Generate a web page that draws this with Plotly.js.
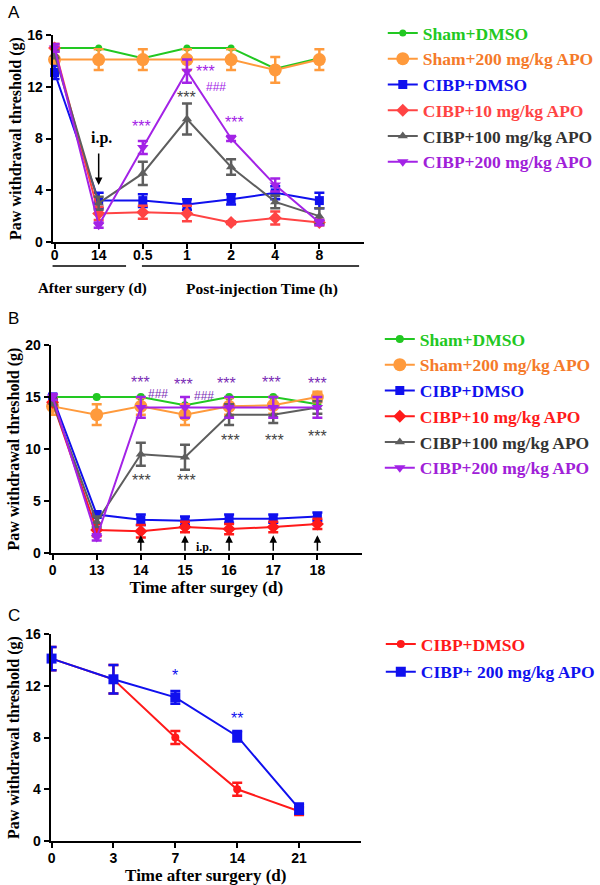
<!DOCTYPE html>
<html>
<head>
<meta charset="utf-8">
<script src="https://cdn.plot.ly/plotly-3.0.1.min.js"></script>
<style>html,body{margin:0;padding:0;background:#fff;}#chart{width:600px;height:885px;}</style>
</head>
<body>
<div id="chart"></div>
<script>
// ---------- Panel A ----------
var catsA = ['0', '14', '0.5', '1', '2', '4', '8'];
var shamDmsoA = [15, 15, 14.2, 15, 15, 13.4, 14.2];
var sham200A = [14.1, 14.1, 14.1, 14.1, 14.1, 13.3, 14.1];
var sham200A_err = [0.8, 0.8, 0.8, 0.8, 0.8, 1.0, 0.8];
var cibpDmsoA = [13.1, 3.2, 3.2, 2.9, 3.3, 3.8, 3.2];
var cibpDmsoA_err = [0.5, 0.6, 0.5, 0.4, 0.4, 0.5, 0.6];
var cibp10A = [15.0, 2.2, 2.3, 2.2, 1.5, 1.85, 1.5];
var cibp10A_err = [0.3, 0.5, 0.5, 0.6, 0.1, 0.5, 0.2];
var cibp100A = [14.5, 3.0, 5.3, 9.5, 5.8, 3.1, 2.0];
var cibp100A_err = [0.3, 0.5, 0.9, 1.2, 0.6, 0.5, 0.6];
var cibp200A = [15.0, 1.3, 7.3, 13.2, 8.0, 4.4, 1.5];
var cibp200A_err = [0.3, 0.2, 0.5, 0.9, 0.2, 0.5, 0.2];

// ---------- Panel B ----------
var catsB = ['0', '13', '14', '15', '16', '17', '18'];
var shamDmsoB = [15, 15, 15, 14.2, 15, 15, 14.3];
var sham200B = [14.1, 13.3, 14.1, 13.3, 14.1, 14.2, 15.0];
var sham200B_err = [0.8, 1.0, 0.8, 1.0, 0.8, 0.8, 0.5];
var cibpDmsoB = [15.0, 3.7, 3.2, 3.1, 3.3, 3.3, 3.5];
var cibpDmsoB_err = [0.3, 0.3, 0.5, 0.4, 0.4, 0.4, 0.4];
var cibp10B = [14.5, 2.2, 2.1, 2.5, 2.3, 2.5, 2.8];
var cibp10B_err = [0.3, 0.6, 0.6, 0.5, 0.5, 0.5, 0.5];
var cibp100B = [14.5, 3.0, 9.5, 9.2, 13.3, 13.3, 14.0];
var cibp100B_err = [0.3, 0.5, 1.1, 1.2, 1.0, 0.8, 0.6];
var cibp200B = [15.0, 1.5, 14.0, 14.0, 14.0, 14.0, 14.0];
var cibp200B_err = [0.3, 0.3, 1.0, 1.0, 1.0, 1.0, 1.0];

// ---------- Panel C ----------
var catsC = ['0', '3', '7', '14', '21'];
var cibpDmsoC = [14.1, 12.5, 8.0, 4.0, 2.3];
var cibpDmsoC_err = [0.9, 1.1, 0.5, 0.5, 0.3];
var cibp200C = [14.1, 12.5, 11.1, 8.1, 2.5];
var cibp200C_err = [0.9, 1.1, 0.5, 0.4, 0.4];

var namesA = ['Sham+DMSO', 'Sham+200 mg/kg APO', 'CIBP+DMSO', 'CIBP+10 mg/kg APO', 'CIBP+100 mg/kg APO', 'CIBP+200 mg/kg APO'];
var namesC = ['CIBP+DMSO', 'CIBP+ 200 mg/kg APO'];

var colGreen = '#22c822', colOrange = '#ff9a3c', colBlue = '#1010ee', colRedA = '#ff4444',
    colRedB = '#ff1a1a', colGray = '#5e5e5e', colPurple = '#a323e6';
var txtOrange = '#f57a2a', txtGray = '#333333', txtPurple = '#a020d8';

function idx(arr) { return arr.map(function (_, i) { return i; }); }

var SERIF = 'Liberation Serif, Times New Roman, serif';
var SANS = 'Liberation Sans, Arial, sans-serif';

function tr(xs, ys, err, name, color, txtColor, sym, size, xa, ya, leg, grp) {
  var t = {
    type: 'scatter', mode: 'lines+markers', x: idx(xs), y: ys,
    name: '<span style="color:' + txtColor + '"><b>' + name + '</b></span>',
    line: {color: color, width: 2},
    marker: {color: color, symbol: sym, size: size},
    cliponaxis: false,
    xaxis: xa, yaxis: ya, legend: leg, legendgroup: grp
  };
  if (err) t.error_y = {type: 'data', array: err, visible: true, color: color, thickness: 2.5, width: 5};
  return t;
}

var data = [
  tr(catsA, shamDmsoA, null, namesA[0], colGreen, colGreen, 'circle', 7, 'x', 'y', 'legend', 'a1'),
  tr(catsA, sham200A, sham200A_err, namesA[1], colOrange, txtOrange, 'circle', 13, 'x', 'y', 'legend', 'a2'),
  tr(catsA, cibpDmsoA, cibpDmsoA_err, namesA[2], colBlue, colBlue, 'square', 9, 'x', 'y', 'legend', 'a3'),
  tr(catsA, cibp10A, cibp10A_err, namesA[3], colRedA, colRedA, 'diamond', 10, 'x', 'y', 'legend', 'a4'),
  tr(catsA, cibp100A, cibp100A_err, namesA[4], colGray, txtGray, 'triangle-up', 9, 'x', 'y', 'legend', 'a5'),
  tr(catsA, cibp200A, cibp200A_err, namesA[5], colPurple, txtPurple, 'triangle-down', 10, 'x', 'y', 'legend', 'a6'),

  tr(catsB, shamDmsoB, null, namesA[0], colGreen, colGreen, 'circle', 8, 'x2', 'y2', 'legend2', 'b1'),
  tr(catsB, sham200B, sham200B_err, namesA[1], colOrange, txtOrange, 'circle', 13, 'x2', 'y2', 'legend2', 'b2'),
  tr(catsB, cibpDmsoB, cibpDmsoB_err, namesA[2], colBlue, colBlue, 'square', 9, 'x2', 'y2', 'legend2', 'b3'),
  tr(catsB, cibp10B, cibp10B_err, namesA[3], colRedB, colRedB, 'diamond', 10, 'x2', 'y2', 'legend2', 'b4'),
  tr(catsB, cibp100B, cibp100B_err, namesA[4], colGray, txtGray, 'triangle-up', 9, 'x2', 'y2', 'legend2', 'b5'),
  tr(catsB, cibp200B, cibp200B_err, namesA[5], colPurple, txtPurple, 'triangle-down', 10, 'x2', 'y2', 'legend2', 'b6'),

  tr(catsC, cibpDmsoC, cibpDmsoC_err, namesC[0], colRedB, colRedB, 'circle', 8, 'x3', 'y3', 'legend3', 'c1'),
  tr(catsC, cibp200C, cibp200C_err, namesC[1], colBlue, colBlue, 'square', 10, 'x3', 'y3', 'legend3', 'c2')
];

function px(x) { return x / 600; }
function py(y) { return 1 - y / 885; }

var tickFont = {family: SANS, size: 14, color: '#000', weight: 'bold'};
function xax(dom, cats, range, anchor, title, lblOff) {
  var a = {
    domain: dom, range: range, anchor: anchor, tickmode: 'array', tickvals: idx(cats), ticktext: cats,
    showline: true, linecolor: '#000', linewidth: 2, ticks: 'outside', ticklen: 5, tickwidth: 2, tickcolor: '#000',
    showgrid: false, zeroline: false, tickfont: tickFont, fixedrange: true, ticklabelstandoff: lblOff
  };
  if (title) a.title = {text: title, font: {family: SERIF, size: 17, color: '#000', weight: 'bold'}, standoff: 1};
  return a;
}
function yax(dom, range, dtick, anchor) {
  return {
    domain: dom, range: range, anchor: anchor, dtick: dtick, tick0: 0,
    showline: true, linecolor: '#000', linewidth: 2, ticks: 'outside', ticklen: 5, tickwidth: 2, tickcolor: '#000',
    showgrid: false, zeroline: false, tickfont: tickFont, fixedrange: true,
    title: {text: 'Paw withdrawal threshold (g)', font: {family: SERIF, size: 16, color: '#000', weight: 'bold'}, standoff: 2}
  };
}

function starAnn(xr, yr, x, y, text, color, size) {
  return {xref: xr, yref: yr, x: x, y: y, text: text, showarrow: false,
    font: {family: SANS, size: size || 16, color: color}};
}

var annotations = [
  {xref: 'paper', yref: 'paper', x: px(6), y: py(12), text: 'A', showarrow: false, xanchor: 'left', yanchor: 'middle', font: {family: SANS, size: 17, color: '#000'}},
  {xref: 'paper', yref: 'paper', x: px(6), y: py(318), text: 'B', showarrow: false, xanchor: 'left', yanchor: 'middle', font: {family: SANS, size: 17, color: '#000'}},
  {xref: 'paper', yref: 'paper', x: px(6), y: py(615), text: 'C', showarrow: false, xanchor: 'left', yanchor: 'middle', font: {family: SANS, size: 17, color: '#000'}},

  // Panel A
  {xref: 'x', yref: 'y', x: 1, y: 4.4, ax: 0, ay: -33, text: '', showarrow: true, arrowhead: 2, arrowsize: 1, arrowwidth: 1.5, arrowcolor: '#000'},
  {xref: 'x', yref: 'y', x: 1.07, y: 8.0, text: 'i.p.', showarrow: false, font: {family: SERIF, size: 16, color: '#000', weight: 'bold'}},
  starAnn('x', 'y', 1.98, 8.9, '***', colPurple),
  starAnn('x', 'y', 3.42, 13.2, '***', colPurple),
  starAnn('x', 'y', 3.66, 12.0, '###', colPurple, 12),
  starAnn('x', 'y', 3.0, 11.2, '***', '#444444'),
  starAnn('x', 'y', 4.07, 9.2, '***', colPurple),
  {xref: 'x', yref: 'paper', x: 0.85, y: py(278), text: 'After surgery (d)', showarrow: false, font: {family: SERIF, size: 15, color: '#000', weight: 'bold'}},
  {xref: 'x', yref: 'paper', x: 4.71, y: py(278), text: 'Post-injection Time (h)', showarrow: false, font: {family: SERIF, size: 15.5, color: '#000', weight: 'bold'}},

  // Panel B
  starAnn('x2', 'y2', 2.0, 16.4, '***', '#7a2db5'),
  starAnn('x2', 'y2', 2.4, 15.3, '###', '#7a2db5', 12),
  starAnn('x2', 'y2', 2.97, 16.2, '***', '#7a2db5'),
  starAnn('x2', 'y2', 3.42, 15.1, '###', '#7a2db5', 12),
  starAnn('x2', 'y2', 3.93, 16.3, '***', '#7a2db5'),
  starAnn('x2', 'y2', 4.97, 16.4, '***', '#7a2db5'),
  starAnn('x2', 'y2', 6.0, 16.3, '***', '#7a2db5'),
  starAnn('x2', 'y2', 2.02, 7.0, '***', '#444444'),
  starAnn('x2', 'y2', 3.03, 7.0, '***', '#444444'),
  starAnn('x2', 'y2', 4.04, 10.8, '***', '#444444'),
  starAnn('x2', 'y2', 5.03, 10.8, '***', '#444444'),
  starAnn('x2', 'y2', 6.0, 11.2, '***', '#444444'),
  {xref: 'x2', yref: 'y2', x: 3.42, y: 0.6, text: 'i.p.', showarrow: false, font: {family: SERIF, size: 12, color: '#000', weight: 'bold'}},

  // Panel C
  starAnn('x3', 'y3', 2, 12.8, '*', colBlue),
  starAnn('x3', 'y3', 3, 9.5, '**', colBlue)
];
[2, 3, 4, 5, 6].forEach(function (i) {
  annotations.push({xref: 'x2', yref: 'y2', x: i, y: 1.7, ax: 0, ay: 17, text: '', showarrow: true,
    arrowhead: 2, arrowsize: 1, arrowwidth: 1.5, arrowcolor: '#000'});
});

var shapes = [
  {type: 'line', xref: 'x', yref: 'paper', x0: -0.067, x1: 1.62, y0: py(266), y1: py(266), line: {color: '#000', width: 1.5}},
  {type: 'line', xref: 'x', yref: 'paper', x0: 1.98, x1: 6.9, y0: py(266), y1: py(266), line: {color: '#000', width: 1.5}}
];

var legFont = {family: SERIF, size: 17.5, color: '#000', weight: 'bold'};
function leg(x, y, gap) {
  return {x: x, y: y, xanchor: 'left', yanchor: 'top', bgcolor: 'rgba(0,0,0,0)', font: legFont,
    tracegroupgap: gap, traceorder: 'grouped', itemwidth: 30};
}

var layout = {
  width: 600, height: 885,
  margin: {l: 0, r: 0, t: 0, b: 0},
  paper_bgcolor: '#fff', plot_bgcolor: '#fff',
  font: {family: SERIF, color: '#000'},
  showlegend: true,
  xaxis: xax([px(53), px(367)], catsA, [-0.045, 7.01], 'y', null, -6),
  yaxis: yax([py(242), py(35)], [0, 16], 4, 'x'),
  xaxis2: xax([px(51), px(365)], catsB, [-0.045, 7.01], 'y2', 'Time after surgey (d)', -2),
  yaxis2: yax([py(553), py(345)], [0, 20], 5, 'x2'),
  xaxis3: xax([px(51), px(364)], catsC, [-0.016, 5.0], 'y3', 'Time after surgery (d)', -2),
  yaxis3: yax([py(841), py(634)], [0, 16], 4, 'x3'),
  legend: leg(px(386), py(15), 0),
  legend2: leg(px(383), py(321), 0),
  legend3: leg(px(384), py(626), 2),
  annotations: annotations,
  shapes: shapes
};

Plotly.newPlot('chart', data, layout, {displayModeBar: false, staticPlot: true});
</script>
</body>
</html>
